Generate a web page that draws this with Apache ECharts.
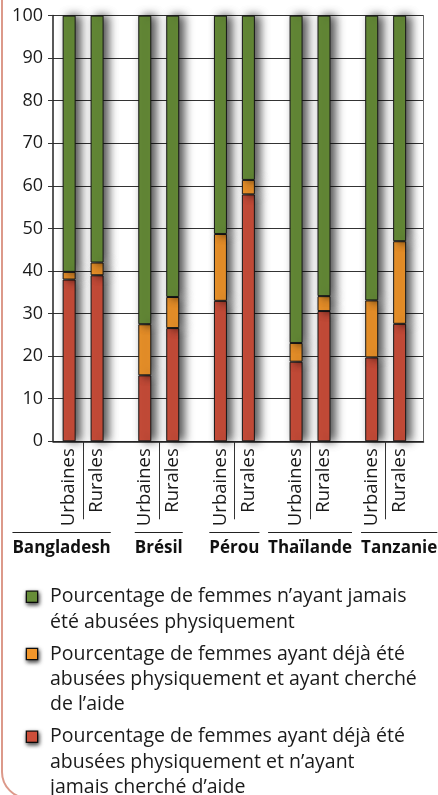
<!DOCTYPE html>
<html><head><meta charset="utf-8">
<script src="https://cdn.jsdelivr.net/npm/echarts@6/dist/echarts.min.js"></script>
<style>html,body{margin:0;padding:0;background:#fff}#c{width:438px;height:795px}</style>
</head><body><div id="c"></div>
<script>
// ---- data ----
const categories = ['Bangladesh', 'Brésil', 'Pérou', 'Thaïlande', 'Tanzanie'];
const stackLabels = ['Urbaines', 'Rurales'];
const yTicks = [0, 10, 20, 30, 40, 50, 60, 70, 80, 90, 100];
const seriesNames = [
  'Pourcentage de femmes n’ayant jamais été abusées physiquement',
  'Pourcentage de femmes ayant déjà été abusées physiquement et ayant cherché de l’aide',
  'Pourcentage de femmes ayant déjà été abusées physiquement et n’ayant jamais cherché d’aide'
];
const legendLines = [
  ['Pourcentage de femmes n’ayant jamais', 'été abusées physiquement'],
  ['Pourcentage de femmes ayant déjà été', 'abusées physiquement et ayant cherché', 'de l’aide'],
  ['Pourcentage de femmes ayant déjà été', 'abusées physiquement et n’ayant', 'jamais cherché d’aide']
];
// Urbaines
const urbRed    = [38, 15.5, 33, 18.7, 19.7];
const urbOrange = [1.8, 12, 15.7, 4.4, 13.4];
const urbGreen  = [60.2, 72.5, 51.3, 76.9, 66.9];
// Rurales
const rurRed    = [39, 26.6, 58, 30.6, 27.6];
const rurOrange = [3, 7.3, 3.4, 3.5, 19.4];
const rurGreen  = [58, 66.1, 38.6, 65.9, 53];

// ---- styles ----
const FONT = '"Open Sans", "DejaVu Sans", sans-serif';
const colors = ['#678d38', '#f0952a', '#cc4e3a'];
const COUNTRY_FONT_SIZE = 17;
// horizontal padding [left, right] of country labels (to keep them inside the frame)
const labelPads = [[0, 43], [0, 0], [0, 0], [0, 0], [27, 0]];

function barSeries(nameIdx, data, stack, labelText) {
  const s = {
    type: 'bar', name: seriesNames[nameIdx], data: data, stack: stack,
    xAxisIndex: 0, yAxisIndex: 0,
    barWidth: 13, barGap: '115%',
    itemStyle: {
      color: colors[nameIdx], borderColor: '#161616', borderWidth: 1,
      shadowBlur: 10, shadowColor: 'rgba(0,0,0,0.7)', shadowOffsetX: 5
    },
    emphasis: { disabled: true }
  };
  if (labelText) {
    s.label = {
      show: true, position: 'bottom', distance: 7, rotate: 90,
      align: 'right', verticalAlign: 'middle',
      formatter: labelText, fontSize: 18.5, color: '#1a1a1a', fontFamily: FONT
    };
  }
  return s;
}

const axisData = categories.map((c, i) => ({
  value: c,
  textStyle: { padding: [0, labelPads[i][1], 0, labelPads[i][0]] }
}));

const legendRich = {
  gap: { width: 13, lineHeight: 25.4 },
  ind: { width: 23, lineHeight: 25.4 }
};
colors.forEach((c, i) => {
  legendRich['sq' + i] = {
    width: 10, height: 10, lineHeight: 25.4, backgroundColor: c,
    borderColor: '#111', borderWidth: 1.3,
    shadowBlur: 4, shadowColor: 'rgba(0,0,0,0.7)', shadowOffsetX: 1, shadowOffsetY: 2
  };
});

const frame = {
  type: 'rect', silent: true, z: -10,
  shape: { x: 2, y: -30, width: 600, height: 828, r: 26 },
  style: { fill: 'none', stroke: '#dc998a', lineWidth: 2 }
};

const chart = echarts.init(document.getElementById('c'), null, { renderer: 'canvas' });
chart.setOption({
  animation: false,
  backgroundColor: '#fff',
  textStyle: { fontFamily: FONT },
  graphic: [frame],
  grid: [
    { left: 45.3, right: 14.5, top: 15.6, bottom: 353.7, outerBoundsMode: 'none', containLabel: false },
    { left: 53, right: 14.5, top: 15.6, bottom: 353.7, outerBoundsMode: 'none', containLabel: false }
  ],
  xAxis: [
    {
      type: 'category', gridIndex: 0, data: axisData,
      axisLine: { show: false },
      axisTick: { show: true, alignWithLabel: true, length: 78, lineStyle: { color: '#333', width: 1 } },
      axisLabel: {
        interval: 0, margin: 96, color: '#111', hideOverlap: false,
        fontSize: COUNTRY_FONT_SIZE, fontWeight: 'bold', lineHeight: 22, fontFamily: FONT
      },
      splitLine: { show: false }
    },
    {
      type: 'value', gridIndex: 1, min: 0, max: 1,
      axisLine: { show: true, lineStyle: { color: '#222', width: 1.5 } },
      axisTick: { show: false }, axisLabel: { show: false }, splitLine: { show: false }
    }
  ],
  yAxis: [
    { type: 'value', gridIndex: 0, min: 0, max: 100, show: false },
    {
      type: 'value', gridIndex: 1, min: yTicks[0], max: yTicks[yTicks.length - 1], interval: 10,
      axisLine: { show: true, lineStyle: { color: '#222', width: 1.5 } },
      axisTick: { show: true, length: 5, lineStyle: { color: '#333' } },
      axisLabel: { margin: 10, fontSize: 18, color: '#1a1a1a', fontFamily: FONT },
      splitLine: { show: true, lineStyle: { color: '#333', width: 1 } }
    },
    {
      type: 'value', gridIndex: 1, position: 'right', min: 0, max: 100,
      axisLine: { show: true, lineStyle: { color: '#666', width: 1 } },
      axisTick: { show: false }, axisLabel: { show: false }, splitLine: { show: false }
    }
  ],
  legend: {
    orient: 'vertical', left: 21, top: 584, height: 260, padding: 0, itemGap: 6.5,
    itemWidth: 0, itemHeight: 0,
    data: [seriesNames[0], seriesNames[1], seriesNames[2]],
    formatter: name => {
      const i = seriesNames.indexOf(name);
      return legendLines[i].map((l, k) => (k === 0 ? '{sq' + i + '|}{gap|}' : '{ind|}') + l).join('\n');
    },
    textStyle: { fontSize: 19.5, color: '#1a1a1a', lineHeight: 25.4, fontFamily: FONT, rich: legendRich }
  },
  series: [
    barSeries(2, urbRed, 'U', stackLabels[0]),
    barSeries(1, urbOrange, 'U'),
    barSeries(0, urbGreen, 'U'),
    barSeries(2, rurRed, 'R', stackLabels[1]),
    barSeries(1, rurOrange, 'R'),
    barSeries(0, rurGreen, 'R')
  ]
});

// Overlines above the country names, spanning each name's width
const ctx = document.createElement('canvas').getContext('2d');
ctx.font = 'bold ' + COUNTRY_FONT_SIZE + 'px ' + FONT;
const baseY = chart.convertToPixel({ yAxisIndex: 0 }, 0);
const overlines = categories.map((c, i) => {
  const cx = chart.convertToPixel({ xAxisIndex: 0 }, c) + (labelPads[i][0] - labelPads[i][1]) / 2;
  const w = ctx.measureText(c).width;
  const y = Math.round(baseY + 91) + 0.5;
  return {
    type: 'line', silent: true,
    shape: { x1: cx - w / 2, y1: y, x2: cx + w / 2, y2: y },
    style: { stroke: '#222', lineWidth: 1 }
  };
});
chart.setOption({ graphic: [frame].concat(overlines) }, { replaceMerge: ['graphic'] });
</script></body></html>
